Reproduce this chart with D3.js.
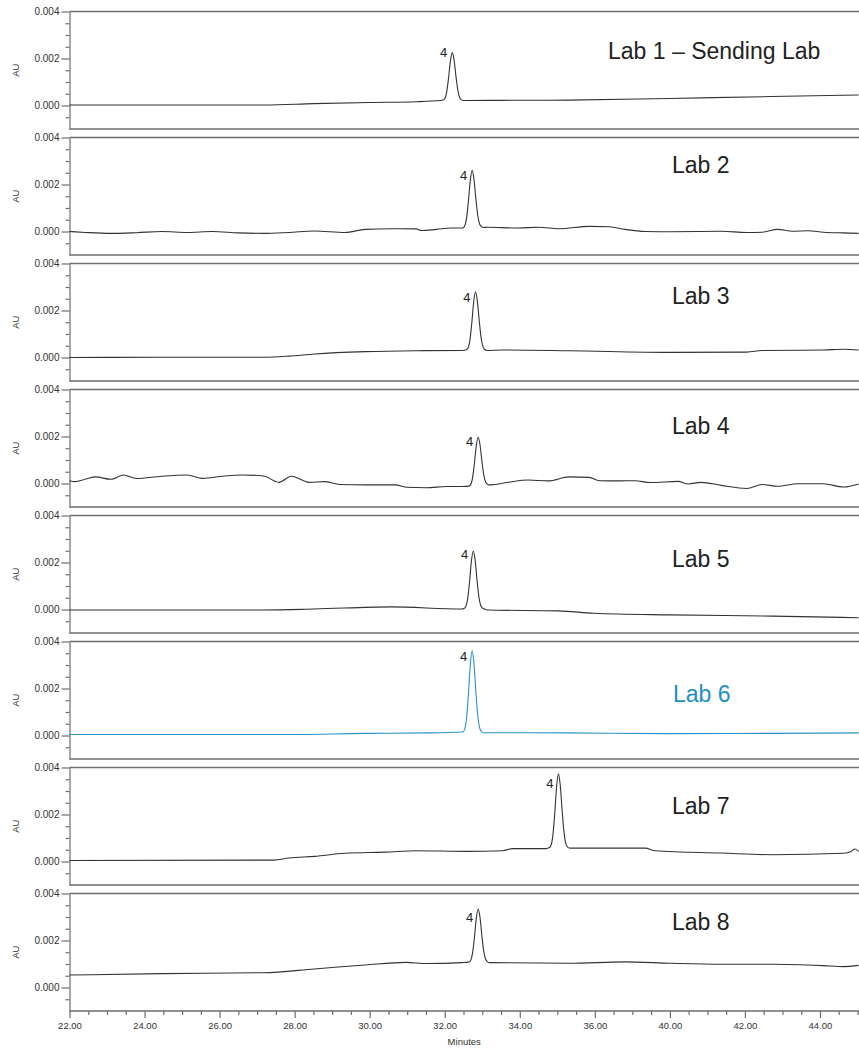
<!DOCTYPE html>
<html>
<head>
<meta charset="utf-8">
<script src="https://cdn.jsdelivr.net/npm/d3@7"></script>
<style>
  body { margin: 0; background: #fff; }
  svg { display: block; font-family: "Liberation Sans", Arial, sans-serif; }
</style>
</head>
<body>
<div id="chart"></div>
<script>
// chart values (minutes, AU)
var labNames = ["Lab 1 \u2013 Sending Lab", "Lab 2", "Lab 3", "Lab 4", "Lab 5", "Lab 6", "Lab 7", "Lab 8"];
var peakName = "4";
var xTickValues = [22, 24, 26, 28, 30, 32, 34, 36, 38, 40, 42];
var xTickLabels = ["22.00", "24.00", "26.00", "28.00", "30.00", "32.00", "34.00", "36.00", "40.00", "42.00", "44.00"];
var yTickValues = [0, 0.002, 0.004];

var lab1 = [[22, 0.00002], [24, 0.00002], [26, 0.00002], [27.2, 0.00002], [28.5, 0.00008], [30, 0.00013],
  [31.24, 0.00016], [31.9, 0.00021], [31.95, 0.00023], [32.0, 0.00029], [32.05, 0.00056], [32.1, 0.00115],
  [32.15, 0.00188], [32.2, 0.00225], [32.25, 0.00192], [32.3, 0.00123], [32.35, 0.00064], [32.4, 0.00033],
  [32.45, 0.00024], [32.5, 0.00021], [33.5, 0.00022], [35.3, 0.00023], [38.0, 0.0003], [40.7, 0.00038], [43.03, 0.00045]];

var lab2 = [[22, 0], [22.42, -0.00004], [23.1, -0.00008], [23.78, -0.00005], [24.46, 0], [25.14, -0.00004],
  [25.8, 0], [26.5, -0.00006], [27.17, -0.00008], [27.85, -0.00004], [28.53, 0.00002], [29.34, -0.00004],
  [29.88, 0.00009], [30.56, 0.00012], [31.24, 0.00011], [31.38, 0.00004], [31.78, 0.00009], [32.19, 0.00015],
  [32.48, 0.00015], [32.53, 0.00023], [32.58, 0.00055], [32.63, 0.00127], [32.68, 0.00216], [32.73, 0.0026],
  [32.78, 0.00221], [32.83, 0.00139], [32.88, 0.00068], [32.93, 0.00032], [32.98, 0.00021], [33.03, 0.00017],
  [33.14, 0.00018], [33.95, 0.00015], [34.5, 0.00018], [35.05, 0.00012], [35.85, 0.00022], [36.39, 0.0002],
  [36.8, 0.00009], [37.34, 0], [38.02, -0.00001], [39.37, 0.00001], [40.05, -0.00004], [40.46, -0.00003],
  [40.87, 0.00009], [41.27, 0.00001], [41.68, 0.00003], [42.09, -0.00003], [42.63, -0.00006], [43.03, -0.00008]];

var lab3 = [[22, 0], [24.46, 0.00001], [27.17, 0.00001], [27.85, 0.00006], [28.53, 0.00015], [29.88, 0.00025],
  [31.24, 0.00029], [32.46, 0.0003], [32.57, 0.00033], [32.62, 0.0004], [32.67, 0.00073], [32.72, 0.00145],
  [32.77, 0.00235], [32.82, 0.0028], [32.87, 0.0024], [32.92, 0.00155], [32.97, 0.00083], [33.02, 0.00045],
  [33.07, 0.00034], [33.12, 0.0003], [33.5, 0.00032], [35.31, 0.00029], [38.02, 0.00022], [40.05, 0.00023],
  [40.46, 0.0003], [42.09, 0.00032], [42.63, 0.00035], [43.03, 0.00032]];

var lab4 = [[22, 0.00012], [22.15, 0.00008], [22.42, 0.00018], [22.7, 0.00028], [23.1, 0.00018], [23.44, 0.00036],
  [23.78, 0.00021], [24.46, 0.00031], [25.14, 0.00036], [25.54, 0.00022], [26.08, 0.00031], [26.62, 0.00036],
  [27.17, 0.00032], [27.58, 0.00005], [27.91, 0.00031], [28.39, 0.00005], [28.8, 0.00008], [29.2, -0.00004],
  [29.88, -0.00006], [30.69, -0.00006], [30.97, -0.00016], [31.51, -0.00018], [32.05, -0.00013], [32.46, -0.00013],
  [32.64, -0.00011], [32.69, -0.00005], [32.74, 0.00023], [32.79, 0.00084], [32.84, 0.00159], [32.89, 0.00197],
  [32.94, 0.00165], [32.99, 0.00096], [33.04, 0.00037], [33.09, 0.00006], [33.14, -0.00003], [33.19, -0.00006],
  [33.68, 0.00005], [34.22, 0.00015], [34.76, 0.00011], [35.31, 0.00028], [35.85, 0.00026], [36.12, 0.00012],
  [36.66, 0.00011], [37.07, 0.00012], [37.48, 0.00004], [38.22, 0.00009], [38.49, -0.00002], [38.83, 0.00005],
  [39.37, -0.00008], [40.05, -0.00021], [40.46, -0.00004], [40.87, -0.00012], [41.41, -0.00001], [42.09, -0.00001],
  [42.63, -0.00015], [43.03, -0.00002]];

var lab5 = [[22, -0.00002], [27.17, -0.00002], [28.53, 0.00002], [30.56, 0.00011], [32.46, 0.00002], [32.51, 0.00004],
  [32.56, 0.00012], [32.61, 0.00044], [32.66, 0.00116], [32.71, 0.00205], [32.76, 0.00249], [32.81, 0.0021],
  [32.86, 0.00126], [32.91, 0.00054], [32.96, 0.00017], [33.01, 0.00006], [33.06, 0.00002], [33.14, -0.00002],
  [35.03, -0.00006], [35.98, -0.00016], [38.02, -0.00023], [40.73, -0.00028], [43.03, -0.00035]];

var lab6 = [[22, 0.00004], [27.58, 0.00004], [29.88, 0.00009], [31.5, 0.00011], [32.48, 0.00015], [32.53, 0.00026],
  [32.58, 0.00071], [32.63, 0.00172], [32.68, 0.00298], [32.73, 0.00361], [32.78, 0.00305], [32.83, 0.00187],
  [32.88, 0.00085], [32.93, 0.00033], [32.98, 0.00017], [33.03, 0.00012], [35.31, 0.00011], [38.02, 0.00008],
  [40.73, 0.00009], [43.03, 0.00011]];

var lab7 = [[22, 0.00004], [27.44, 0.00006], [27.85, 0.00015], [28.53, 0.00022], [29.34, 0.00035], [30.42, 0.0004],
  [31.24, 0.00046], [32.59, 0.00043], [33.54, 0.00046], [33.81, 0.00055], [34.7, 0.00055], [34.78, 0.00058],
  [34.83, 0.00068], [34.88, 0.00109], [34.93, 0.00201], [34.98, 0.00316], [35.03, 0.00373], [35.08, 0.00322],
  [35.13, 0.00214], [35.18, 0.00122], [35.23, 0.00074], [35.28, 0.0006], [35.33, 0.00057], [37.34, 0.00057],
  [37.61, 0.00046], [39.37, 0.00036], [40.73, 0.00029], [42.63, 0.00035], [42.83, 0.00043], [42.93, 0.00053],
  [43.03, 0.00043]];

var lab8 = [[22, 0.00053], [24.46, 0.00059], [27.17, 0.00063], [28.53, 0.00079], [29.88, 0.00096], [30.97, 0.00107],
  [31.51, 0.00102], [32.46, 0.00106], [32.64, 0.00108], [32.69, 0.00115], [32.74, 0.00145], [32.79, 0.00211],
  [32.84, 0.00293], [32.89, 0.00334], [32.94, 0.00298], [32.99, 0.0022], [33.04, 0.00154], [33.09, 0.0012],
  [33.14, 0.00109], [33.19, 0.00106], [35.31, 0.00103], [36.8, 0.00109], [38.02, 0.00103], [39.37, 0.00099],
  [40.73, 0.00099], [42.09, 0.00093], [42.63, 0.00089], [43.03, 0.00094]];

var labs = [lab1, lab2, lab3, lab4, lab5, lab6, lab7, lab8];

// layout
var width = 859, height = 1048;
var left = 69.5, right = 859;
var panelTop = 11.5, panelStep = 126, panelH = 117.5;
var labelX = [608, 672, 672, 672, 672, 673, 672, 672];
var labelDy = [47.5, 35.5, 40.5, 44.5, 51.5, 60, 46.5, 36.5];
var peakDy = [4, 10, 10, 8.5, 8, 10, 14.5, 12.5];
var axisColor = "#6e6e6e", textColor = "#333";
var traceColor = function(i){ return i === 5 ? "#2a93c8" : "#333"; };
var labelColor = function(i){ return i === 5 ? "#1f8fc8" : "#222"; };

var svg = d3.select("#chart")
  .append("svg")
    .attr("width", width)
    .attr("height", height);

var x = d3.scaleLinear()
  .domain([22, 43.04])
  .range([left, right]);

var y = d3.scaleLinear()
  .domain([-0.001, 0.004])
  .range([panelH, 0]);

var yMinor = d3.range(-0.0005, 0.0041, 0.0005).filter(function(d){
  return yTickValues.every(function(v){ return Math.abs(v - d) > 1e-7; });
});

var line = d3.line()
  .x(function(d){ return x(d[0]); })
  .y(function(d){ return y(d[1]); })
  .curve(d3.curveMonotoneX);

labs.forEach(function(data, i){
  var g = svg.append("g")
    .attr("transform", "translate(0," + (panelTop + i * panelStep) + ")");

  // top and bottom frame lines
  g.selectAll("line.frame")
    .data([0, panelH])
    .enter()
    .append("line")
      .attr("class", "frame")
      .attr("x1", left).attr("x2", right)
      .attr("y1", function(d){ return d; }).attr("y2", function(d){ return d; })
      .attr("stroke", axisColor)
      .attr("stroke-width", 1.3);

  // y axis
  var ya = g.append("g")
    .attr("transform", "translate(" + left + ",0)")
    .call(d3.axisLeft(y).tickValues(yTickValues).tickFormat(d3.format(".3f")).tickSize(8).tickPadding(2).tickSizeOuter(0));
  g.append("g")
    .attr("transform", "translate(" + left + ",0)")
    .call(d3.axisLeft(y).tickValues(yMinor).tickFormat("").tickSize(4).tickSizeOuter(0))
    .select(".domain").remove();
  g.selectAll(".domain, .tick line")
    .attr("stroke", axisColor)
    .attr("stroke-width", 1.2);
  ya.selectAll(".tick text")
    .attr("fill", textColor)
    .style("font-size", "10px");

  g.append("text")
    .attr("transform", "translate(16," + (panelH / 2) + ") rotate(-90)")
    .attr("text-anchor", "middle")
    .attr("dy", "0.35em")
    .attr("fill", textColor)
    .style("font-size", "9.5px")
    .text("AU");

  // trace
  g.append("path")
    .datum(data)
    .attr("fill", "none")
    .attr("stroke", traceColor(i))
    .attr("stroke-width", 1.1)
    .attr("d", line);

  // peak label next to the apex
  var apex = data.reduce(function(a, b){ return b[1] > a[1] ? b : a; });
  g.append("text")
    .attr("x", x(apex[0]) - 5)
    .attr("y", y(apex[1]) + peakDy[i])
    .attr("text-anchor", "end")
    .attr("fill", "#222")
    .style("font-size", "13px")
    .text(peakName);

  g.append("text")
    .attr("x", labelX[i])
    .attr("y", labelDy[i])
    .attr("fill", labelColor(i))
    .style("font-size", "23px")
    .text(labNames[i]);
});

// x axis under the last panel
var axisY = panelTop + (labs.length - 1) * panelStep + panelH;
var xMinor = d3.range(22.5, 43.01, 0.5).filter(function(d){ return d % 2 !== 0; });

var xa = svg.append("g")
  .attr("transform", "translate(0," + axisY + ")")
  .call(d3.axisBottom(x).tickValues(xTickValues)
    .tickFormat(function(d, i){ return xTickLabels[i]; })
    .tickSize(7).tickPadding(4).tickSizeOuter(0));
xa.select(".domain").remove();
var xm = svg.append("g")
  .attr("transform", "translate(0," + axisY + ")")
  .call(d3.axisBottom(x).tickValues(xMinor).tickFormat("").tickSize(4).tickSizeOuter(0));
xm.select(".domain").remove();
svg.selectAll(".tick line")
  .attr("stroke", axisColor)
  .attr("stroke-width", 1.2);
xa.selectAll(".tick text")
  .attr("fill", textColor)
  .style("font-size", "9.5px");

svg.append("text")
  .attr("x", (left + right) / 2)
  .attr("y", 1045)
  .attr("text-anchor", "middle")
  .attr("fill", textColor)
  .style("font-size", "9.5px")
  .text("Minutes");
</script>
</body>
</html>
